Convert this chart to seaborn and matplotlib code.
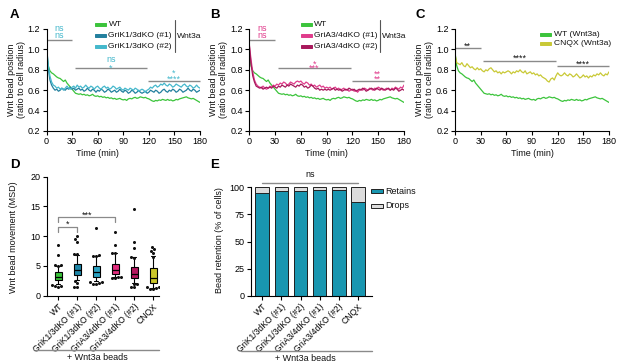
import numpy as np
import pandas as pd
import matplotlib
matplotlib.use("Agg")
import matplotlib.pyplot as plt
import seaborn as sns
from matplotlib.patches import Rectangle
from matplotlib.lines import Line2D
from matplotlib.font_manager import FontProperties

# ---------------- data ----------------
time_min = list(range(0, 181, 2))

wt = [0.97, 0.84, 0.79, 0.77, 0.76, 0.745, 0.73, 0.72, 0.715, 0.70,
      0.685, 0.70, 0.67, 0.65, 0.63, 0.61, 0.59, 0.57, 0.565, 0.56,
      0.565, 0.555, 0.56, 0.55, 0.555, 0.545, 0.55, 0.56, 0.545, 0.54,
      0.545, 0.535, 0.54, 0.53, 0.535, 0.525, 0.53, 0.52, 0.525, 0.515,
      0.52, 0.51, 0.515, 0.52, 0.51, 0.505, 0.51, 0.50, 0.515, 0.52,
      0.515, 0.525, 0.53, 0.52, 0.525, 0.535, 0.53, 0.525, 0.53, 0.52,
      0.515, 0.505, 0.495, 0.49, 0.50, 0.495, 0.505, 0.50, 0.51, 0.505,
      0.50, 0.51, 0.50, 0.505, 0.495, 0.50, 0.51, 0.505, 0.515, 0.52,
      0.525, 0.53, 0.535, 0.525, 0.52, 0.515, 0.52, 0.51, 0.50, 0.49,
      0.48]

grik1_ko1 = [1.05, 0.82, 0.70, 0.65, 0.62, 0.60, 0.61, 0.59, 0.60, 0.62,
             0.61, 0.60, 0.62, 0.61, 0.63, 0.61, 0.62, 0.60, 0.61, 0.62,
             0.60, 0.61, 0.59, 0.60, 0.62, 0.60, 0.59, 0.61, 0.60, 0.58,
             0.60, 0.59, 0.61, 0.60, 0.58, 0.59, 0.61, 0.60, 0.58, 0.59,
             0.60, 0.58, 0.59, 0.61, 0.59, 0.58, 0.60, 0.59, 0.57, 0.58,
             0.60, 0.59, 0.57, 0.58, 0.60, 0.58, 0.57, 0.58, 0.59, 0.57,
             0.58, 0.60, 0.59, 0.58, 0.60, 0.59, 0.57, 0.58, 0.60, 0.61,
             0.59, 0.58, 0.60, 0.59, 0.61, 0.60, 0.58, 0.59, 0.61, 0.60,
             0.58, 0.59, 0.60, 0.62, 0.60, 0.59, 0.61, 0.60, 0.58, 0.59,
             0.60]

grik1_ko2 = [1.03, 0.85, 0.74, 0.68, 0.65, 0.64, 0.62, 0.63, 0.61, 0.62,
             0.60, 0.62, 0.64, 0.62, 0.61, 0.63, 0.64, 0.62, 0.65, 0.63,
             0.64, 0.62, 0.63, 0.65, 0.63, 0.62, 0.64, 0.63, 0.61, 0.63,
             0.64, 0.62, 0.61, 0.63, 0.64, 0.62, 0.63, 0.61, 0.62, 0.64,
             0.63, 0.61, 0.62, 0.63, 0.61, 0.60, 0.62, 0.61, 0.60, 0.62,
             0.61, 0.60, 0.62, 0.61, 0.59, 0.60, 0.61, 0.60, 0.58, 0.60,
             0.61, 0.63, 0.62, 0.64, 0.65, 0.63, 0.64, 0.66, 0.65, 0.67,
             0.65, 0.64, 0.66, 0.65, 0.63, 0.64, 0.66, 0.65, 0.64, 0.63,
             0.65, 0.66, 0.64, 0.63, 0.65, 0.64, 0.62, 0.63, 0.65, 0.63,
             0.62]

gria3_ko1 = [1.05, 0.90, 0.78, 0.70, 0.66, 0.64, 0.63, 0.62, 0.64, 0.62,
             0.61, 0.62, 0.64, 0.63, 0.65, 0.64, 0.66, 0.65, 0.67, 0.66,
             0.68, 0.67, 0.65, 0.66, 0.68, 0.67, 0.66, 0.68, 0.69, 0.68,
             0.69, 0.67, 0.66, 0.68, 0.67, 0.65, 0.66, 0.64, 0.65, 0.63,
             0.64, 0.65, 0.63, 0.64, 0.62, 0.63, 0.62, 0.63, 0.61, 0.62,
             0.63, 0.61, 0.62, 0.60, 0.61, 0.62, 0.60, 0.61, 0.59, 0.60,
             0.61, 0.59, 0.60, 0.58, 0.60, 0.61, 0.60, 0.62, 0.61, 0.60,
             0.62, 0.61, 0.60, 0.62, 0.61, 0.63, 0.62, 0.61, 0.60, 0.61,
             0.62, 0.61, 0.60, 0.62, 0.61, 0.63, 0.62, 0.61, 0.63, 0.62,
             0.65]

gria3_ko2 = [1.04, 0.86, 0.74, 0.68, 0.64, 0.63, 0.62, 0.63, 0.61, 0.62,
             0.63, 0.62, 0.63, 0.62, 0.64, 0.63, 0.62, 0.64, 0.63, 0.65,
             0.64, 0.63, 0.65, 0.64, 0.66, 0.65, 0.64, 0.63, 0.65, 0.64,
             0.66, 0.65, 0.63, 0.64, 0.62, 0.63, 0.65, 0.64, 0.62, 0.61,
             0.62, 0.60, 0.61, 0.60, 0.61, 0.60, 0.61, 0.60, 0.61, 0.62,
             0.60, 0.61, 0.60, 0.61, 0.59, 0.60, 0.61, 0.60, 0.62, 0.61,
             0.60, 0.61, 0.59, 0.60, 0.61, 0.60, 0.62, 0.61, 0.59, 0.60,
             0.61, 0.62, 0.61, 0.60, 0.62, 0.61, 0.60, 0.62, 0.61, 0.60,
             0.61, 0.62, 0.60, 0.61, 0.60, 0.62, 0.61, 0.59, 0.60, 0.61,
             0.60]

cnqx = [0.95, 0.87, 0.86, 0.85, 0.87, 0.84, 0.83, 0.86, 0.84, 0.82,
        0.83, 0.81, 0.80, 0.82, 0.80, 0.81, 0.79, 0.78, 0.80, 0.79,
        0.81, 0.82, 0.80, 0.78, 0.79, 0.77, 0.78, 0.76, 0.78, 0.77,
        0.78, 0.79, 0.78, 0.76, 0.78, 0.77, 0.79, 0.78, 0.80, 0.78,
        0.77, 0.79, 0.76, 0.77, 0.78, 0.76, 0.77, 0.75, 0.76, 0.74,
        0.75, 0.73, 0.72, 0.71, 0.69, 0.68, 0.71, 0.72, 0.70, 0.74,
        0.77, 0.75, 0.74, 0.75, 0.77, 0.75, 0.74, 0.76, 0.75, 0.73,
        0.74, 0.76, 0.74, 0.72, 0.73, 0.75, 0.73, 0.74, 0.72, 0.74,
        0.73, 0.75, 0.74, 0.76, 0.75, 0.77, 0.75, 0.74, 0.76, 0.75,
        0.78]

categories = ["WT", "GriK1/3dKO (#1)", "GriK1/3dKO (#2)",
              "GriA3/4dKO (#1)", "GriA3/4dKO (#2)", "CNQX"]

# panel D box statistics (10-90 percentile whiskers) and outlying points
box_whislo = [1.9, 2.6, 2.45, 3.2, 2.2, 1.3]
box_q1 = [2.7, 3.4, 3.2, 3.65, 2.9, 2.15]
box_med = [3.2, 4.35, 4.0, 4.3, 3.6, 2.95]
box_q3 = [3.9, 5.25, 5.05, 5.25, 4.85, 4.6]
box_whishi = [5.0, 6.8, 6.6, 7.1, 6.5, 6.6]
fliers = [
    [8.5, 6.8, 5.1, 5.05, 5.1, 1.8, 1.6, 1.5, 1.7],
    [10.0, 9.5, 9.1, 7.0, 7.0, 2.4, 2.1, 1.5, 1.4],
    [11.4, 6.8, 6.7, 6.7, 2.3, 2.3, 2.0, 1.9, 2.2],
    [10.7, 8.6, 7.1, 7.1, 3.1, 3.0, 3.1, 2.9],
    [14.5, 9.0, 8.1, 6.5, 6.4, 2.0, 1.9, 1.5, 1.4],
    [8.2, 7.8, 7.5, 7.1, 6.5, 1.4, 1.3, 1.2, 1.5, 1.2],
]

# panel E
retains = [95.0, 96.5, 96.5, 97.5, 97.5, 86.5]
drops = [5.0, 3.5, 3.5, 2.5, 2.5, 13.5]

# ---------------- style ----------------
C_WT = "#3cc43c"
C_K1 = "#23809e"
C_K2 = "#45b8cc"
C_A1 = "#e03c8c"
C_A2 = "#a8195c"
C_CN = "#c9c936"
GRAY = "#8a8a8a"
box_colors = ["#39c239", "#1e86a8", "#2ba3c3", "#e22d7d", "#b4175f", "#cbc62a"]
C_RET = "#1996b0"
C_DROP = "#dcdcdc"

sns.set_theme(style="ticks")
plt.rcParams["font.family"] = ["Liberation Sans", "DejaVu Sans"]
FS = 6.5
LEG_FS = 6.1
plt.rcParams.update({
    "font.size": FS,
    "axes.linewidth": 0.8,
    "axes.edgecolor": "black",
    "axes.labelsize": FS,
    "xtick.labelsize": FS,
    "ytick.labelsize": FS,
    "xtick.major.size": 3,
    "ytick.major.size": 3,
    "xtick.major.width": 0.8,
    "ytick.major.width": 0.8,
    "xtick.major.pad": 1.5,
    "ytick.major.pad": 1.5,
    "xtick.color": "black",
    "ytick.color": "black",
    "text.color": "#111111",
    "axes.labelcolor": "#111111",
})

W, H = 617, 362
fig = plt.figure(figsize=(W / 100, H / 100), dpi=100)
renderer = fig.canvas.get_renderer()


def fx(x):
    return x / W


def fy(y):
    return 1 - y / H


def add_ax(l, t, r, b):
    return fig.add_axes([fx(l), fy(b), fx(r) - fx(l), fy(t) - fy(b)])


def stack(ax, x, items, color, fs=FS):
    """One text object; items = [(string, glyph-centre y, kind), ...] top to bottom."""
    fp = FontProperties(family=plt.rcParams["font.family"], size=fs)
    _, lh, ld = renderer.get_text_width_height_descent("lp", fp, ismath=False)
    fs_px = fs * fig.dpi / 72
    bases = []
    for s, yc, kind in items:
        k = 0.58 if kind == "star" else 0.27
        bases.append(ax.transData.transform((x, yc))[1] - k * fs_px)
    if len(items) > 1:
        step = bases[0] - bases[1]
        ls = max((step - ld) / (lh - ld), 0.05)
    else:
        ls = 1.2
    top_px = bases[0] + (lh - ld)
    ytop = ax.transData.inverted().transform((0, top_px))[1]
    ax.text(x, ytop, "\n".join(s for s, _, _ in items), ha="center",
            va="top", multialignment="center", linespacing=ls,
            color=color, fontsize=fs, clip_on=False)


def hline(ax, x0, x1, y):
    ax.plot([x0, x1], [y, y], color=GRAY, lw=1.0, clip_on=False,
            solid_capstyle="butt")


def fig_legend(items, x0, y0, dy, pw=11, ph=3.4, edge=None, fs=LEG_FS):
    for i, (name, col) in enumerate(items):
        y = y0 + i * dy
        r = Rectangle((fx(x0), fy(y + ph / 2)), pw / W, ph / H,
                      transform=fig.transFigure, facecolor=col,
                      edgecolor=edge if edge else col, lw=0.7)
        fig.add_artist(r)
        fig.text(fx(x0 + pw + 2.5), fy(y), name, ha="left", va="center",
                 fontsize=fs)


def fig_line(x0, x1, y0, y1, color=GRAY, lw=1.0):
    fig.add_artist(Line2D([fx(x0), fx(x1)], [fy(y0), fy(y1)],
                          transform=fig.transFigure, color=color, lw=lw))


def line_panel(ax, names, series, colors, xlab_x=0.5):
    rows = []
    for n, s in zip(names, series):
        for t, v in zip(time_min, s):
            rows.append((n, t, v))
    df = pd.DataFrame(rows, columns=["group", "Time (min)", "pos"])
    sns.lineplot(data=df, x="Time (min)", y="pos", hue="group",
                 hue_order=names, palette=dict(zip(names, colors)),
                 estimator=None, linewidth=0.9, legend=False, ax=ax)
    ax.set_xlim(0, 180)
    ax.set_ylim(0.2, 1.2)
    ax.set_xticks(range(0, 181, 30))
    yt = [0.2, 0.4, 0.6, 0.8, 1.0, 1.2]
    ax.set_yticks(yt)
    ax.set_yticklabels([f"{v:.1f}" for v in yt])
    sns.despine(ax=ax)
    ax.set_xlabel("Time (min)")
    ax.xaxis.set_label_coords(xlab_x, -0.225)
    ax.xaxis.label.set_va("center")
    ax.set_ylabel("Wnt bead position\n(ratio to cell radius)", linespacing=1.15)
    ax.yaxis.set_label_coords(-0.198, 0.5)
    ax.yaxis.label.set_va("center")


# ---------------- Panel A ----------------
axA = add_ax(46.5, 29, 200, 131)
line_panel(axA, ["WT", "GriK1/3dKO (#1)", "GriK1/3dKO (#2)"],
           [wt, grik1_ko1, grik1_ko2], [C_WT, C_K1, C_K2], xlab_x=0.33)
hline(axA, 0, 30, 1.09)
stack(axA, 15, [("ns", 1.205, "text"), ("ns", 1.14, "text")], C_K2)
hline(axA, 33, 118, 0.815)
stack(axA, 75.5, [("ns", 0.896, "text"), ("*", 0.84, "star")], C_K2)
hline(axA, 119, 180, 0.693)
stack(axA, 149.5, [("*", 0.79, "star"), ("****", 0.73, "star")], C_K2)
fig_legend([("WT", C_WT), ("GriK1/3dKO (#1)", C_K1), ("GriK1/3dKO (#2)", C_K2)],
           95, 24.5, 11)
fig_line(174.5, 174.5, 20, 52, color="#555555", lw=0.8)
fig.text(fx(177), fy(37), "Wnt3a", ha="left", va="center", fontsize=LEG_FS)

# ---------------- Panel B ----------------
axB = add_ax(249.3, 29, 404, 131)
line_panel(axB, ["WT", "GriA3/4dKO (#1)", "GriA3/4dKO (#2)"],
           [wt, gria3_ko1, gria3_ko2], [C_WT, C_A1, C_A2])
hline(axB, 0, 30, 1.09)
stack(axB, 15, [("ns", 1.205, "text"), ("ns", 1.14, "text")], C_A1)
hline(axB, 33, 118, 0.815)
stack(axB, 75.5, [("*", 0.886, "star"), ("***", 0.847, "star")], C_A1)
hline(axB, 119, 180, 0.693)
stack(axB, 149.5, [("**", 0.78, "star"), ("**", 0.735, "star")], C_A1)
fig_legend([("WT", C_WT), ("GriA3/4dKO (#1)", C_A1), ("GriA3/4dKO (#2)", C_A2)],
           300.5, 24.5, 11)
fig_line(379.5, 379.5, 20, 52, color="#555555", lw=0.8)
fig.text(fx(382), fy(37), "Wnt3a", ha="left", va="center", fontsize=LEG_FS)

# ---------------- Panel C ----------------
axC = add_ax(455, 29, 609, 131)
line_panel(axC, ["WT (Wnt3a)", "CNQX (Wnt3a)"], [wt, cnqx], [C_WT, C_CN])
hline(axC, 0, 30, 1.01)
stack(axC, 15, [("**", 1.06, "star")], "#111111")
hline(axC, 33, 118, 0.886)
stack(axC, 75.5, [("****", 0.945, "star")], "#111111")
hline(axC, 119, 180, 0.84)
stack(axC, 149.5, [("****", 0.886, "star")], "#111111")
fig_legend([("WT (Wnt3a)", C_WT), ("CNQX (Wnt3a)", C_CN)], 540, 34.5, 9)

# ---------------- Panel D ----------------
axD = add_ax(46.7, 176.7, 159, 295.7)
frows = []
for cat, fl in zip(categories, fliers):
    for v in fl:
        frows.append((cat, v))
dfF = pd.DataFrame(frows, columns=["group", "MSD"])
stats = []
for i in range(len(categories)):
    stats.append(dict(whislo=box_whislo[i], q1=box_q1[i], med=box_med[i],
                      q3=box_q3[i], whishi=box_whishi[i], fliers=[],
                      label=categories[i]))
sns.swarmplot(data=dfF, x="group", y="MSD", order=categories, color="#111111",
              size=2.2, ax=axD, zorder=4)
bp = axD.bxp(stats, positions=range(len(categories)), widths=0.38,
             patch_artist=True, showfliers=False, manage_ticks=False,
             boxprops=dict(edgecolor="black", linewidth=0.8),
             medianprops=dict(color="black", linewidth=0.9),
             whiskerprops=dict(color="black", linewidth=0.8),
             capprops=dict(color="black", linewidth=0.8), capwidths=0.22)
for patch, c in zip(bp["boxes"], box_colors):
    patch.set_facecolor(c)
axD.set_xlim(-0.6, 5.3)
axD.set_ylim(0, 20)
axD.set_yticks([0, 5, 10, 15, 20])
axD.set_xticks(range(len(categories)))
axD.set_xticklabels(categories, rotation=45, ha="right",
                    rotation_mode="anchor", fontsize=6.2)
sns.despine(ax=axD)
axD.set_xlabel("")
axD.set_ylabel("Wnt bead movement (MSD)")
axD.yaxis.set_label_coords(-0.30, 0.493)
axD.yaxis.label.set_va("center")
axD.plot([0, 0, 1, 1], [10.75, 11.5, 11.5, 10.75], color=GRAY, lw=0.9)
stack(axD, 0.5, [("*", 12.4, "star")], "#111111")
axD.plot([0, 0, 3, 3], [12.4, 13.25, 13.25, 12.4], color=GRAY, lw=0.9)
stack(axD, 1.5, [("***", 14.0, "star")], "#111111")
fig_line(35.7, 159.3, 350, 350)
fig.text(fx(97), fy(357.5), "+ Wnt3a beads", ha="center", va="center", fontsize=FS)

# ---------------- Panel E ----------------
axE = add_ax(250.7, 187.3, 371.7, 295.7)
totals = [r + d for r, d in zip(retains, drops)]
sns.barplot(x=categories, y=totals, color=C_DROP, width=0.72, ax=axE,
            edgecolor="#222222", linewidth=0.7, saturation=1)
sns.barplot(x=categories, y=retains, color=C_RET, width=0.72, ax=axE,
            edgecolor="#222222", linewidth=0.7, saturation=1)
axE.set_xlim(-0.61, 5.73)
axE.set_ylim(0, 100)
axE.set_yticks([0, 25, 50, 75, 100])
axE.set_xticks(range(len(categories)))
axE.set_xticklabels(categories, rotation=45, ha="right",
                    rotation_mode="anchor", fontsize=6.2)
sns.despine(ax=axE)
axE.set_xlabel("")
axE.set_ylabel("Bead retention (% of cells)")
axE.yaxis.set_label_coords(-0.254, 0.514)
axE.yaxis.label.set_va("center")
axE.plot([0, 5], [104, 104], color=GRAY, lw=1.0, clip_on=False)
stack(axE, 2.5, [("ns", 111.3, "text")], "#111111")
fig_legend([("Retains", C_RET), ("Drops", C_DROP)], 371, 191, 15, pw=12, ph=4,
           edge="#222222", fs=FS)
fig_line(240.7, 371.7, 350.7, 350.7)
fig.text(fx(305), fy(358.5), "+ Wnt3a beads", ha="center", va="center", fontsize=FS)

# ---------------- panel letters ----------------
for lab, x, y in [("A", 10, 15), ("B", 210, 15), ("C", 415, 15),
                  ("D", 10, 165), ("E", 210, 165)]:
    fig.text(fx(x), fy(y), lab, ha="left", va="center", fontsize=9.5,
             fontweight="bold", color="black")

fig.savefig("out.png", dpi=100)
